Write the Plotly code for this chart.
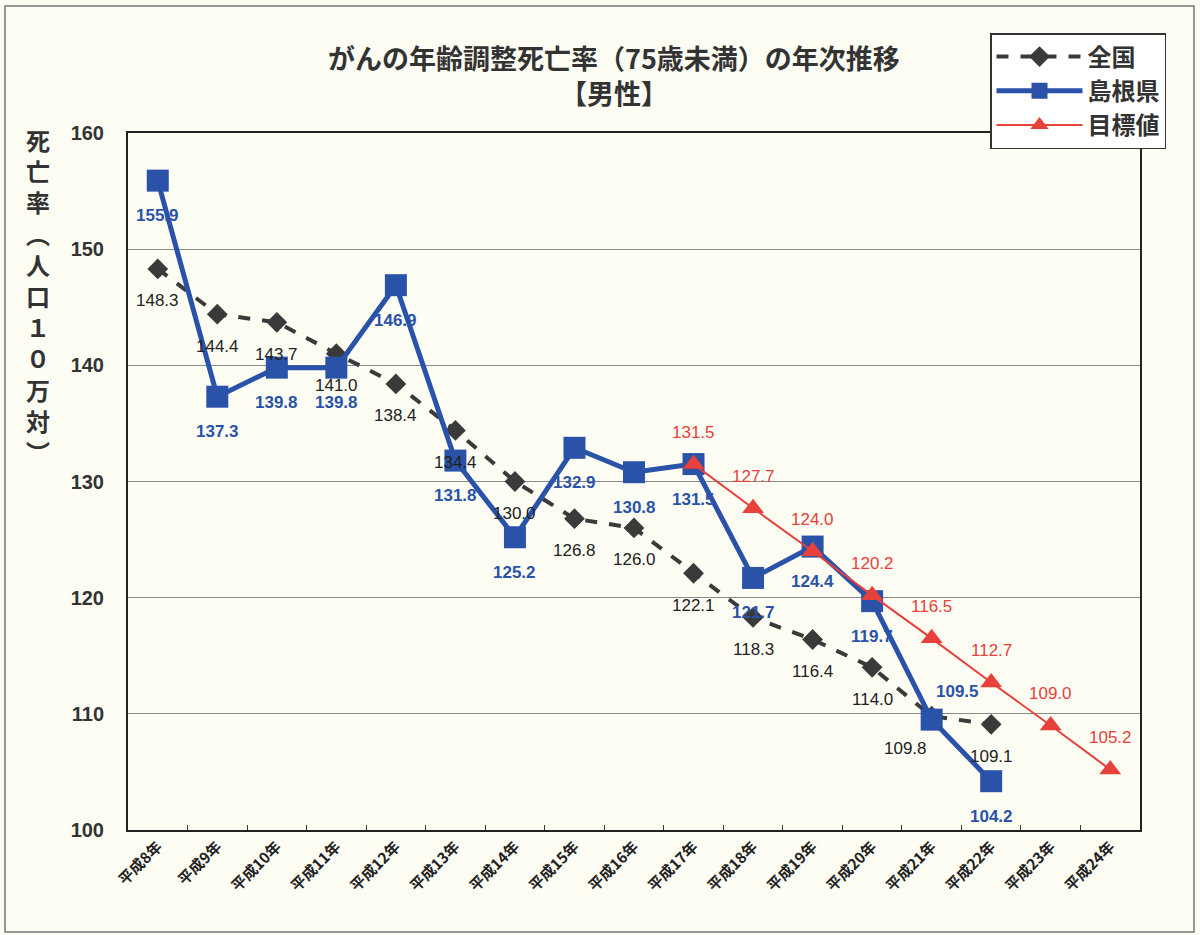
import plotly.graph_objects as go

years = ["平成8年", "平成9年", "平成10年", "平成11年", "平成12年", "平成13年", "平成14年",
         "平成15年", "平成16年", "平成17年", "平成18年", "平成19年", "平成20年", "平成21年",
         "平成22年", "平成23年", "平成24年"]
zenkoku = [148.3, 144.4, 143.7, 141.0, 138.4, 134.4, 130.0, 126.8, 126.0, 122.1,
           118.3, 116.4, 114.0, 109.8, 109.1]
shimane = [155.9, 137.3, 139.8, 139.8, 146.9, 131.8, 125.2, 132.9, 130.8, 131.5,
           121.7, 124.4, 119.7, 109.5, 104.2]
target_years = years[9:]
target = [131.5, 127.7, 124.0, 120.2, 116.5, 112.7, 109.0, 105.2]

C_ZEN = "#3a3a3a"
C_SHI = "#2a52a8"
C_TGT = "#e8403a"
BG = "#fdfdf4"

fig = go.Figure()
fig.add_trace(go.Scatter(
    x=years[:len(zenkoku)], y=zenkoku, name="全国", mode="lines+markers",
    line=dict(color=C_ZEN, width=4, dash="dash"),
    marker=dict(symbol="diamond", size=16, color=C_ZEN)))
fig.add_trace(go.Scatter(
    x=years[:len(shimane)], y=shimane, name="島根県", mode="lines+markers",
    line=dict(color=C_SHI, width=5),
    marker=dict(symbol="square", size=22, color=C_SHI)))
fig.add_trace(go.Scatter(
    x=target_years, y=target, name="目標値", mode="lines+markers",
    line=dict(color=C_TGT, width=2),
    marker=dict(symbol="triangle-up", size=19, color=C_TGT)))

ann = []
num_font = "Liberation Sans, Arial, sans-serif"
for i, (x, v) in enumerate(zip(years, zenkoku)):
    xs = -26 if x == "平成21年" else 0
    ann.append(dict(x=x, y=v, text=f"{v:.1f}", showarrow=False, yshift=-32, xshift=xs,
                    font=dict(family=num_font, size=17, color="#222")))
for x, v in zip(years, shimane):
    if x == "平成21年":
        xs, ys = 26, 28
    else:
        xs, ys = 0, -35
    ann.append(dict(x=x, y=v, text=f"<b>{v:.1f}</b>", showarrow=False, yshift=ys, xshift=xs,
                    font=dict(family=num_font, size=17, color=C_SHI)))
for x, v in zip(target_years, target):
    ann.append(dict(x=x, y=v, text=f"{v:.1f}", showarrow=False, yshift=32,
                    font=dict(family=num_font, size=17, color=C_TGT)))

ylab = "<br>".join(list("死亡率︵人口１０万対︶"))
ann.append(dict(xref="paper", yref="paper", x=(38 - 128) / 1012, y=(830 - 120) / 697,
                xanchor="center", yanchor="top", showarrow=False, text=ylab,
                font=dict(family="Noto Sans CJK JP", size=24, color="#333", weight="bold")))
ann.append(dict(xref="paper", yref="paper", x=(614 - 128) / 1012, y=(830 - 36) / 697,
                xanchor="center", yanchor="top", showarrow=False,
                text="がんの年齢調整死亡率（75歳未満）の年次推移<br>【男性】",
                font=dict(family="Noto Sans CJK JP", size=27, color="#333", weight="bold")))

fig.update_layout(
    width=1200, height=935,
    margin=dict(l=128, r=60, t=133, b=105),
    paper_bgcolor=BG, plot_bgcolor=BG,
    showlegend=True,
    legend=dict(x=(990 - 128) / 1012, y=(830 - 33) / 697, xanchor="left", yanchor="top",
                bgcolor="#ffffff", bordercolor="#333", borderwidth=1.5,
                font=dict(family="Noto Sans CJK JP", size=24, color="#333", weight="bold"),
                itemwidth=86, tracegroupgap=0),
    annotations=ann,
    shapes=[dict(type="rect", xref="paper", yref="paper",
                 x0=(5 - 128) / 1012, x1=(1194 - 128) / 1012,
                 y0=(830 - 932) / 697, y1=(830 - 6) / 697,
                 line=dict(color="#777", width=1.5), fillcolor="rgba(0,0,0,0)", layer="below")],
)
fig.update_xaxes(type="category", categoryorder="array", categoryarray=years,
                 range=[-0.5, 16.5], tickangle=-45, tickson="boundaries",
                 ticks="inside", ticklen=5, tickcolor="#333",
                 showline=True, linecolor="#222", linewidth=2, mirror=True,
                 showgrid=False,
                 tickfont=dict(family="Noto Sans CJK JP", size=15, color="#222", weight="bold"))
fig.update_yaxes(range=[100, 160], dtick=10, showgrid=True, gridcolor="#8a8a8a", gridwidth=1,
                 showline=True, linecolor="#222", linewidth=2, mirror=True,
                 zeroline=False, ticks="", ticklabelstandoff=18,
                 tickfont=dict(family="Liberation Sans, Arial", size=20, color="#333", weight="bold"))

fig.write_html("out.html", config={"displayModeBar": False},
               post_script="document.body.style.margin='0px';")
